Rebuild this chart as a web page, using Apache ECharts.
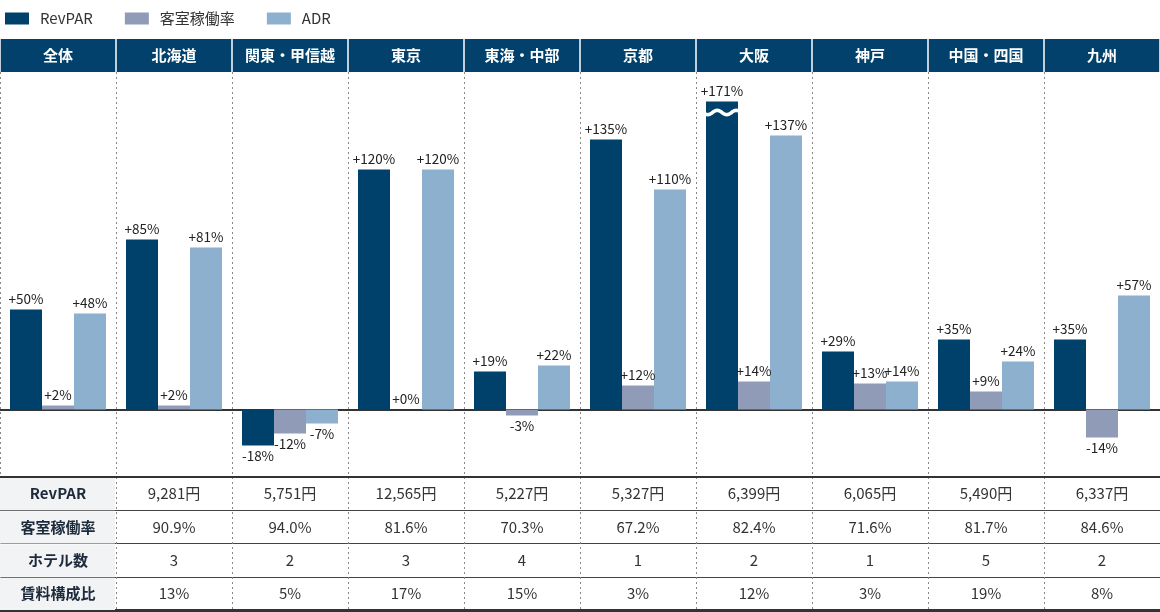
<!DOCTYPE html>
<html><head><meta charset="utf-8">
<script src="https://cdn.jsdelivr.net/npm/echarts@6/dist/echarts.min.js"></script>
<style>html,body{margin:0;padding:0;background:#fff}#c{width:1160px;height:612px}</style>
</head><body><div id="c"></div>
<script>
const categories = ['全体','北海道','関東・甲信越','東京','東海・中部','京都','大阪','神戸','中国・四国','九州'];
const seriesNames = ['RevPAR','客室稼働率','ADR'];
const revpar = [50,85,-18,120,19,135,171,29,35,35];
const occupancy = [2,2,-12,0,-3,12,14,13,9,-14];
const adr = [48,81,-7,120,22,110,137,14,24,57];
const revparCap = 154;          // broken-bar display value for 大阪
const breakAt = [6, 148.5];     // [category index, value] of the break mark
const rowLabels = ['RevPAR','客室稼働率','ホテル数','賃料構成比'];
const tblRevpar = ['9,281円','5,751円','12,565円','5,227円','5,327円','6,399円','6,065円','5,490円','6,337円'];
const tblOcc = ['90.9%','94.0%','81.6%','70.3%','67.2%','82.4%','71.6%','81.7%','84.6%'];
const tblHotels = ['3','2','3','4','1','2','1','5','2'];
const tblRent = ['13%','5%','17%','15%','3%','12%','3%','19%','8%'];

const FONT = '"Noto Sans CJK JP","Noto Sans",sans-serif';
const C1 = '#00416b', C2 = '#8f9bb7', C3 = '#8cb0ce';
const BAR_W = 32;

const fmt = v => (v >= 0 ? '+' : '') + v + '%';
function barData(arr, cap) {
  return arr.map(v => ({
    value: cap !== undefined ? Math.min(v, cap) : v,
    label: { position: v < 0 ? 'bottom' : 'top' }
  }));
}
function barSeries(name, arr, color, cap) {
  return {
    name, type: 'bar', xAxisIndex: 0, yAxisIndex: 0,
    data: barData(arr, cap), barWidth: BAR_W, barGap: '0%',
    itemStyle: { color },
    label: { show: true, fontSize: 13.5, color: '#222', fontFamily: FONT, distance: 4,
      formatter: p => fmt(arr[p.dataIndex]) }
  };
}

const tableRows = [tblRevpar, tblOcc, tblHotels, tblRent];
const cells = [];
rowLabels.forEach((lab, r) => {
  cells.push({ value: [0, r], text: lab, head: true });
  tableRows[r].forEach((t, i) => cells.push({ value: [i + 1, r], text: t, head: false }));
});

const chart = echarts.init(document.getElementById('c'));
chart.setOption({
  animation: false,
  graphic: [{ type: 'rect', left: 0, top: 39, shape: { width: 1160, height: 33 }, style: { fill: '#01416b' }, z: 0 }],
  legend: {
    left: 0, top: 6, itemWidth: 24, itemHeight: 12, itemGap: 32, icon: 'rect',
    data: seriesNames,
    textStyle: { fontSize: 15, color: '#333', fontFamily: FONT, padding: [0, 0, 0, 6] }
  },
  grid: [
    { left: 0, right: 0, top: 72, bottom: 135 },
    { left: 0, right: 0, top: 477, bottom: 2 }
  ],
  xAxis: [
    { type: 'category', gridIndex: 0, data: categories, position: 'bottom',
      axisLine: { onZero: true, lineStyle: { color: '#333', width: 2 } },
      axisTick: { show: false }, axisLabel: { show: false },
      splitLine: { show: true, interval: 0, lineStyle: { color: '#888', type: [2, 3], width: 1 } } },
    { type: 'category', gridIndex: 0, data: categories, position: 'top', z: 10,
      axisLine: { show: false },
      axisTick: { show: true, interval: 0, length: 33, lineStyle: { color: '#fff', width: 1.5 } },
      axisLabel: { show: true, interval: 0, margin: 9, color: '#fff', fontWeight: 'bold', fontSize: 15, fontFamily: FONT } },
    { type: 'category', gridIndex: 1, data: categories, position: 'top',
      axisLine: { show: true, lineStyle: { color: '#333', width: 2 } },
      axisTick: { show: false }, axisLabel: { show: false } },
    { type: 'category', gridIndex: 1, data: categories, position: 'bottom',
      axisLine: { show: true, lineStyle: { color: '#333', width: 3 } },
      axisTick: { show: false }, axisLabel: { show: false },
      splitLine: { show: true, interval: 0, lineStyle: { color: '#888', type: [2, 3], width: 1 } } }
  ],
  yAxis: [
    { type: 'value', gridIndex: 0, min: -33.75, max: 168.75, show: false },
    { type: 'category', gridIndex: 1, data: rowLabels, inverse: true,
      axisLine: { show: false }, axisTick: { show: false }, axisLabel: { show: false },
      splitLine: { show: true, interval: 0, lineStyle: { color: '#444', width: 1 } } }
  ],
  series: [
    barSeries(seriesNames[0], revpar, C1, revparCap),
    barSeries(seriesNames[1], occupancy, C2),
    barSeries(seriesNames[2], adr, C3),
    { type: 'custom', xAxisIndex: 0, yAxisIndex: 0, z: 5, silent: true,
      data: [breakAt],
      renderItem: (params, api) => {
        const p = api.coord([api.value(0), api.value(1)]);
        const cx = p[0] - BAR_W;
        const pts = [];
        for (let k = 0; k <= 40; k++) {
          const x = cx - 19 + k * 38 / 40;
          pts.push([x, p[1] + 2.2 * Math.sin(k / 40 * Math.PI * 4)]);
        }
        return { type: 'polyline', shape: { points: pts }, style: { stroke: '#fff', lineWidth: 3.5, fill: null } };
      } },
    { type: 'custom', xAxisIndex: 3, yAxisIndex: 1, silent: true,
      data: cells.map(c => c.value),
      renderItem: (params, api) => {
        const cell = cells[params.dataIndex];
        const p = api.coord([api.value(0), api.value(1)]);
        const s = api.size([1, 1]);
        const children = [];
        if (cell.head) {
          children.push({ type: 'rect', shape: { x: p[0] - s[0] / 2, y: p[1] - s[1] / 2 + 1, width: s[0] - 1, height: s[1] - 1 },
            style: { fill: '#f2f3f5' } });
        }
        children.push({ type: 'text', style: { text: cell.text, x: p[0], y: p[1], align: 'center', verticalAlign: 'middle',
          fill: cell.head ? '#1c2a3a' : '#333',
          font: (cell.head ? 'bold ' : '') + '15px ' + FONT } });
        return { type: 'group', children };
      } }
  ]
});
</script></body></html>
